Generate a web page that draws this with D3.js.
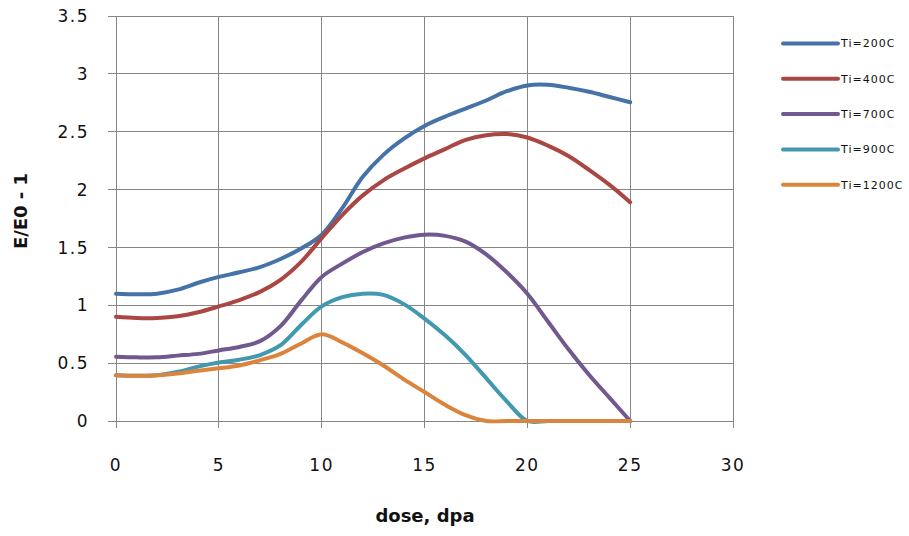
<!DOCTYPE html>
<html><head><meta charset="utf-8">
<script src="https://cdn.jsdelivr.net/npm/d3@7"></script>
<style>body{margin:0;background:#fff}svg{display:block}</style>
</head><body>
<svg id="chart" width="909" height="536"></svg>
<script>
const doses = [0,1,2,3,4,5,6,7,8,9,10,11,12,13,14,15,16,17,18,19,20,21,22,23,24,25];
const ti200  = [1.10,1.095,1.10,1.135,1.195,1.245,1.285,1.33,1.40,1.49,1.61,1.84,2.11,2.30,2.44,2.55,2.63,2.70,2.77,2.85,2.90,2.905,2.88,2.845,2.80,2.755];
const ti400  = [0.90,0.89,0.89,0.905,0.94,0.99,1.045,1.116,1.22,1.375,1.58,1.78,1.95,2.08,2.18,2.27,2.35,2.43,2.47,2.48,2.45,2.38,2.29,2.17,2.04,1.89];
const ti700  = [0.555,0.55,0.55,0.565,0.58,0.61,0.64,0.69,0.82,1.04,1.245,1.36,1.46,1.535,1.585,1.61,1.60,1.55,1.44,1.285,1.10,0.86,0.62,0.40,0.20,0.0];
const ti900  = [0.395,0.39,0.395,0.425,0.47,0.505,0.53,0.57,0.655,0.83,0.99,1.07,1.10,1.09,1.01,0.885,0.74,0.57,0.37,0.17,0.0,0.0,0.0,0.0,0.0,0.0];
const ti1200 = [0.395,0.39,0.395,0.41,0.435,0.455,0.48,0.525,0.58,0.67,0.75,0.68,0.585,0.48,0.36,0.25,0.14,0.05,0.0,0.0,0.0,0.0,0.0,0.0,0.0,0.0];
const seriesNames = ["Ti=200C","Ti=400C","Ti=700C","Ti=900C","Ti=1200C"];
const seriesColors = ["#4572A7","#AA4643","#71588F","#4198AF","#DB843D"];
const xTicks = [0,5,10,15,20,25,30];
const yTicks = [0,0.5,1,1.5,2,2.5,3,3.5];
const yTickLabels = ["0","0.5","1","1.5","2","2.5","3","3.5"];
const xTitle = "dose, dpa";
const yTitle = "E/E0 - 1";

const allSeries = [ti200, ti400, ti700, ti900, ti1200];
const svg = d3.select("#chart");
const L = 116, R = 733, T = 16, B = 421;
const x = d3.scaleLinear().domain([0,30]).range([L,R]);
const y = d3.scaleLinear().domain([0,3.5]).range([B,T]);
const grid = "#868686";
const labelFont = "'DejaVu Sans', sans-serif";

// gridlines
svg.append("g").selectAll("line").data(yTicks).join("line")
  .attr("x1",L-8).attr("x2",R).attr("y1",d=>y(d)).attr("y2",d=>y(d))
  .attr("stroke",grid).attr("stroke-width",1).attr("shape-rendering","crispEdges");
svg.append("g").selectAll("line").data(xTicks).join("line")
  .attr("x1",d=>x(d)).attr("x2",d=>x(d)).attr("y1",T).attr("y2",B+7)
  .attr("stroke",grid).attr("stroke-width",1).attr("shape-rendering","crispEdges");

// tick labels
svg.append("g").selectAll("text").data(yTicks).join("text")
  .attr("x",89).attr("y",d=>y(d)).attr("dy","0.36em").attr("text-anchor","end")
  .attr("font-family",labelFont).attr("font-size",17).attr("letter-spacing","1.5px")
  .attr("fill","#111").text((d,i)=>yTickLabels[i]);
svg.append("g").selectAll("text").data(xTicks).join("text")
  .attr("x",d=>x(d)).attr("y",465).attr("dy","0.36em").attr("text-anchor","middle")
  .attr("font-family",labelFont).attr("font-size",17).attr("letter-spacing","1.5px")
  .attr("fill","#111").text(d=>d);

// axis titles
svg.append("text").attr("x",425).attr("y",516).attr("dy","0.36em").attr("text-anchor","middle")
  .attr("font-family",labelFont).attr("font-weight","bold").attr("font-size",18)
  .attr("fill","#111").text(xTitle);
svg.append("text").attr("transform","translate(21,211) rotate(-90)").attr("dy","0.36em")
  .attr("text-anchor","middle")
  .attr("font-family",labelFont).attr("font-weight","bold").attr("font-size",18)
  .attr("fill","#111").text(yTitle);

// lines
const line = d3.line().x((d,i)=>x(doses[i])).y(d=>y(Math.max(0,d))).curve(d3.curveCatmullRom.alpha(0.5));
svg.append("g").selectAll("path").data(allSeries).join("path")
  .attr("d",d=>line(d)).attr("fill","none")
  .attr("stroke",(d,i)=>seriesColors[i]).attr("stroke-width",4)
  .attr("stroke-linejoin","round").attr("stroke-linecap","round");

// legend
const lg = svg.append("g").selectAll("g").data(seriesNames).join("g")
  .attr("transform",(d,i)=>`translate(783,${43.5+i*35.3})`);
lg.append("line").attr("x1",0).attr("x2",55).attr("y1",0).attr("y2",0)
  .attr("stroke",(d,i)=>seriesColors[i]).attr("stroke-width",4).attr("stroke-linecap","round");
lg.append("text").attr("x",58).attr("y",0).attr("dy","0.36em")
  .attr("font-family",labelFont).attr("font-size",11).attr("letter-spacing","1px")
  .attr("fill","#111").text(d=>d);
</script>
</body></html>
